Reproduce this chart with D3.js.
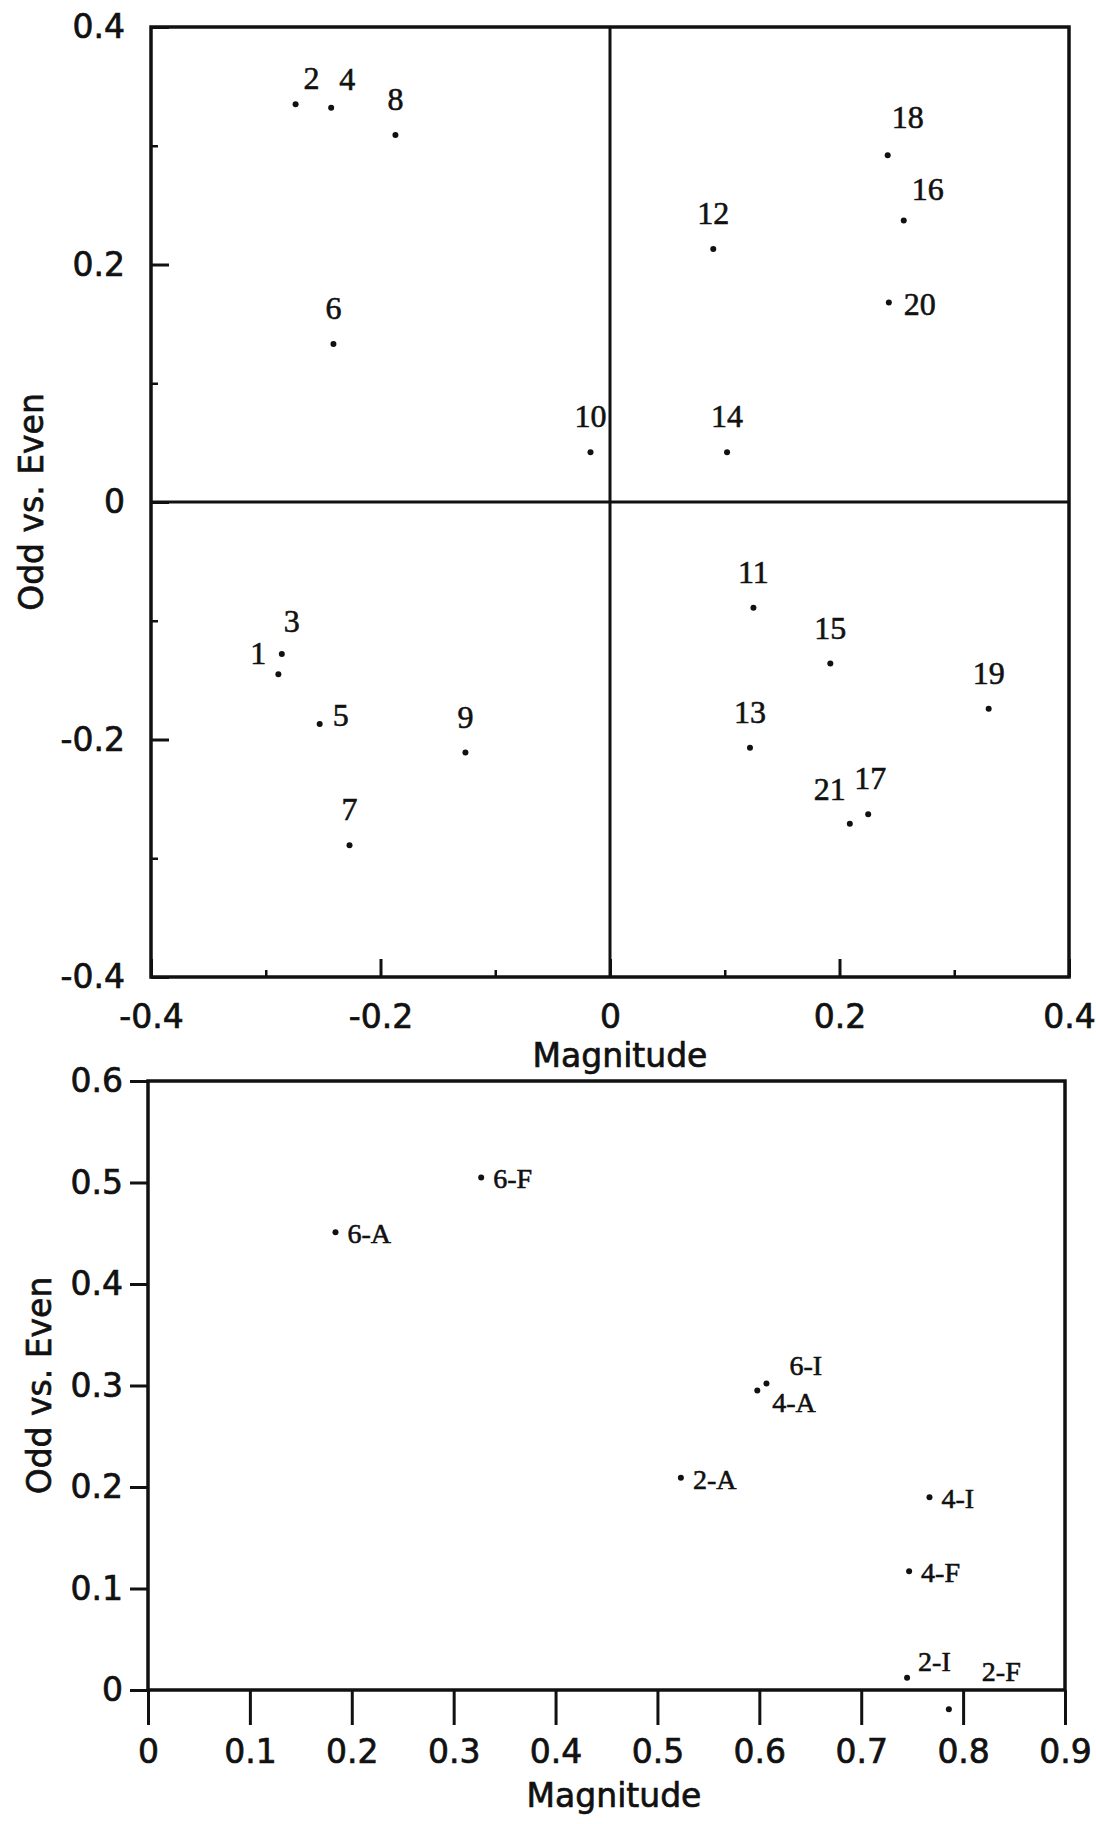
<!DOCTYPE html>
<html>
<head>
<meta charset="utf-8">
<script src="https://cdn.jsdelivr.net/npm/d3@7"></script>
<style>
  body { margin: 0; background: #fff; }
</style>
</head>
<body>
<script>
const width = 1096;
const height = 1824;

// upper panel: numbered points
const topLabels = ["1","2","3","4","5","6","7","8","9","10","11","12","13","14","15","16","17","18","19","20","21"];
const topMagnitude = [-0.289,-0.274,-0.286,-0.243,-0.253,-0.241,-0.227,-0.187,-0.126,-0.017,0.125,0.090,0.122,0.102,0.192,0.256,0.225,0.242,0.330,0.243,0.209];
const topOddEven = [-0.145,0.335,-0.128,0.332,-0.187,0.133,-0.289,0.309,-0.211,0.042,-0.089,0.213,-0.207,0.042,-0.136,0.237,-0.263,0.292,-0.174,0.168,-0.271];
const topTicks = [-0.4,-0.2,0,0.2,0.4];
const topMinorTicks = [-0.3,-0.1,0.1,0.3];

// lower panel: lettered points
const bottomLabels = ["6-F","6-A","6-I","4-A","2-A","4-I","4-F","2-I","2-F"];
const bottomMagnitude = [0.327,0.184,0.607,0.598,0.523,0.767,0.747,0.745,0.786];
const bottomOddEven = [0.505,0.451,0.302,0.295,0.209,0.190,0.117,0.012,-0.019];
const bottomXTicks = [0,0.1,0.2,0.3,0.4,0.5,0.6,0.7,0.8,0.9];
const bottomYTicks = [0,0.1,0.2,0.3,0.4,0.5,0.6];

// label placement (pixels from the dot), layout only
const topLabelShift = {"1":[-20,-10],"2":[16,-15],"3":[10,-22],"4":[16,-18],"5":[21,2],
  "16":[24,-21],"17":[2,-25],"18":[20,-27],"20":[31,12],"21":[-20,-24]};
const bottomLabelShift = {"6-I":[23,-8],"4-A":[15,21],"2-I":[11,-7],"2-F":[33,-28]};

const sans = "'DejaVu Sans', sans-serif";
const serif = "'Liberation Serif', 'Times New Roman', serif";
const ink = "#111";

const fmt = v => Math.abs(v) < 1e-9 ? "0" : (+v.toFixed(1)).toString();

let svg;

function prepareVis() {
  svg = d3.select("body").append("svg")
    .attr("width", width)
    .attr("height", height);
}

// scanned look: text a little heavier than plain weight
function sansText(sel) {
  sel.style("font-family", sans).style("font-size", "33px")
    .attr("fill", ink).attr("stroke", ink).attr("stroke-width", 0.7);
}

function styleAxis(g, w) {
  g.select(".domain").remove();
  g.selectAll("line").attr("stroke", ink).attr("stroke-width", w);
  g.selectAll("text").call(sansText);
}

function drawTop() {
  const x = d3.scaleLinear().domain([-0.4, 0.4]).range([151, 1069]);
  const y = d3.scaleLinear().domain([-0.4, 0.4]).range([977, 27]);
  const g = svg.append("g");

  // left axis, ticks pointing inward
  g.append("g").attr("transform", `translate(${x(-0.4)},0)`)
    .call(d3.axisLeft(y).tickValues(topTicks).tickFormat(fmt).tickSize(-18).tickPadding(26))
    .call(a => styleAxis(a, 3));
  g.append("g").attr("transform", `translate(${x(-0.4)},0)`)
    .call(d3.axisLeft(y).tickValues(topMinorTicks).tickFormat("").tickSize(-7))
    .call(a => styleAxis(a, 2.5));

  // bottom axis
  const xa = g.append("g").attr("transform", `translate(0,${y(-0.4)})`)
    .call(d3.axisBottom(x).tickValues(topTicks).tickFormat(fmt).tickSize(-18))
    .call(a => styleAxis(a, 3));
  xa.selectAll("text").attr("y", 51).attr("dy", 0);
  g.append("g").attr("transform", `translate(0,${y(-0.4)})`)
    .call(d3.axisBottom(x).tickValues(topMinorTicks).tickFormat("").tickSize(-7))
    .call(a => styleAxis(a, 2.5));

  // frame and zero cross
  g.append("rect")
    .attr("x", x(-0.4)).attr("y", y(0.4))
    .attr("width", x(0.4) - x(-0.4)).attr("height", y(-0.4) - y(0.4))
    .attr("fill", "none").attr("stroke", ink).attr("stroke-width", 3.5);
  g.append("line").attr("x1", x(-0.4)).attr("x2", x(0.4)).attr("y1", y(0)).attr("y2", y(0))
    .attr("stroke", ink).attr("stroke-width", 3);
  g.append("line").attr("x1", x(0)).attr("x2", x(0)).attr("y1", y(-0.4)).attr("y2", y(0.4))
    .attr("stroke", ink).attr("stroke-width", 3);

  const pts = topLabels.map((l, i) => ({ label: l, mx: topMagnitude[i], oe: topOddEven[i] }));

  g.selectAll("circle.pt").data(pts).enter().append("circle")
    .attr("class", "pt")
    .attr("cx", d => x(d.mx)).attr("cy", d => y(d.oe)).attr("r", 3)
    .attr("fill", ink);

  g.selectAll("text.lbl").data(pts).enter().append("text")
    .attr("class", "lbl")
    .attr("x", d => x(d.mx) + (topLabelShift[d.label] || [0, -25])[0])
    .attr("y", d => y(d.oe) + (topLabelShift[d.label] || [0, -25])[1])
    .attr("text-anchor", "middle")
    .style("font-family", serif).style("font-size", "32px")
    .attr("fill", ink).attr("stroke", ink).attr("stroke-width", 0.6)
    .text(d => d.label);

  // titles
  g.append("text").attr("x", 620).attr("y", 1067).attr("text-anchor", "middle")
    .call(sansText)
    .text("Magnitude");
  g.append("text").attr("transform", `translate(31,${y(0)}) rotate(-90)`)
    .attr("text-anchor", "middle").attr("dominant-baseline", "central")
    .call(sansText)
    .text("Odd vs. Even");
}

function drawBottom() {
  const x = d3.scaleLinear().domain([0, 0.9]).range([148, 1065]);
  const y = d3.scaleLinear().domain([0, 0.6]).range([1690, 1081]);
  const g = svg.append("g");

  g.append("g").attr("transform", `translate(${x(0)},0)`)
    .call(d3.axisLeft(y).tickValues(bottomYTicks).tickFormat(fmt).tickSize(18).tickPadding(7))
    .call(a => styleAxis(a, 3));

  const xa = g.append("g").attr("transform", `translate(0,${y(0)})`)
    .call(d3.axisBottom(x).tickValues(bottomXTicks).tickFormat(fmt).tickSize(35))
    .call(a => styleAxis(a, 3));
  xa.selectAll("text").attr("y", 73).attr("dy", 0);

  g.append("rect")
    .attr("x", x(0)).attr("y", y(0.6))
    .attr("width", x(0.9) - x(0)).attr("height", y(0) - y(0.6))
    .attr("fill", "none").attr("stroke", ink).attr("stroke-width", 3.5);

  const pts = bottomLabels.map((l, i) => ({ label: l, mx: bottomMagnitude[i], oe: bottomOddEven[i] }));

  g.selectAll("circle.pt").data(pts).enter().append("circle")
    .attr("class", "pt")
    .attr("cx", d => x(d.mx)).attr("cy", d => y(d.oe)).attr("r", 3)
    .attr("fill", ink);

  g.selectAll("text.lbl").data(pts).enter().append("text")
    .attr("class", "lbl")
    .attr("x", d => x(d.mx) + (bottomLabelShift[d.label] || [12, 11])[0])
    .attr("y", d => y(d.oe) + (bottomLabelShift[d.label] || [12, 11])[1])
    .style("font-family", serif).style("font-size", "28px")
    .attr("fill", ink).attr("stroke", ink).attr("stroke-width", 0.6)
    .text(d => d.label);

  g.append("text").attr("x", 614).attr("y", 1807).attr("text-anchor", "middle")
    .call(sansText)
    .text("Magnitude");
  g.append("text").attr("transform", `translate(39,${y(0.3)}) rotate(-90)`)
    .attr("text-anchor", "middle").attr("dominant-baseline", "central")
    .call(sansText)
    .text("Odd vs. Even");
}

function runApp() {
  prepareVis();
  drawTop();
  drawBottom();
}

runApp();
</script>
</body>
</html>
